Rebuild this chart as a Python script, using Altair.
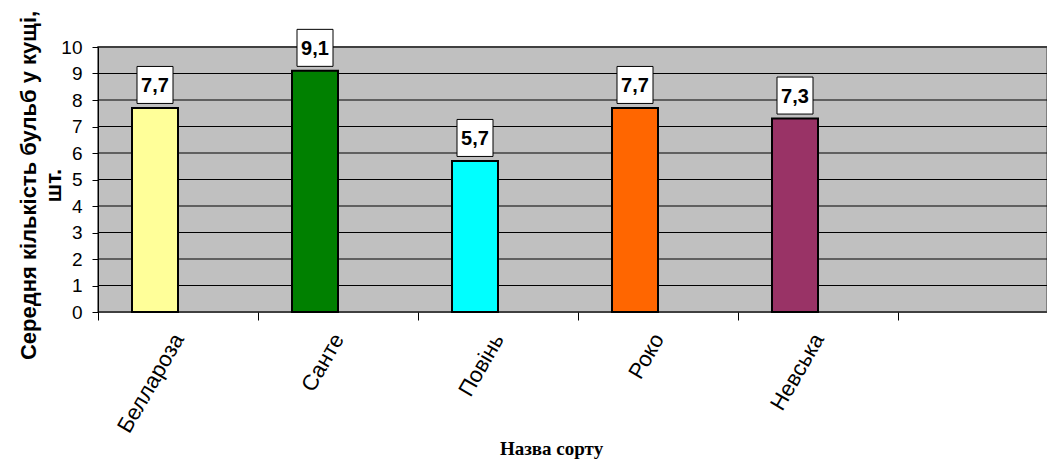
import altair as alt
import pandas as pd

varieties = ["Беллароза", "Санте", "Повінь", "Роко", "Невська"]
values = [7.7, 9.1, 5.7, 7.7, 7.3]
labels = ["7,7", "9,1", "5,7", "7,7", "7,3"]
colors = ["#FFFF99", "#008000", "#00FFFF", "#FF6600", "#993366"]
y_ticks = [0, 1, 2, 3, 4, 5, 6, 7, 8, 9, 10]

df = pd.DataFrame({"sort": varieties, "value": values, "label": labels})
grid_df = pd.DataFrame({"value": y_ticks})

x_scale = alt.Scale(domain=varieties, range=[0, 800], paddingInner=0, paddingOuter=0)
y_scale = alt.Scale(domain=[0, 10], nice=False)

x_axis = alt.Axis(
    title="Назва сорту",
    titleFont="Liberation Serif",
    titleFontSize=19,
    titleFontWeight="bold",
    titleColor="#000000",
    titleX=453,
    titleY=136,
    titleBaseline="middle",
    titleAlign="center",
    labelAngle=-60,
    labelAlign="right",
    labelBaseline="middle",
    labelFont="Arial",
    labelFontSize=22,
    labelColor="#000000",
    labelPadding=15,
    tickBand="extent",
    tickSize=8,
    tickColor="#000000",
    domain=False,
    grid=False,
)

y_axis = alt.Axis(
    title=["Середня кількість бульб у кущі,", "шт."],
    titleFont="Arial",
    titleFontSize=22,
    titleFontWeight="bold",
    titleColor="#000000",
    titleX=-70,
    titleY=138,
    titleAngle=270,
    titleBaseline="middle",
    titleAlign="center",
    titleLineHeight=25,
    values=y_ticks,
    labelOverlap=False,
    labelFont="Arial",
    labelFontSize=19,
    labelColor="#000000",
    labelPadding=10,
    tickSize=6,
    tickColor="#000000",
    domainColor="#000000",
    grid=False,
)

X = alt.X("sort:N", sort=varieties, scale=x_scale, axis=x_axis)
Y = alt.Y("value:Q", scale=y_scale, axis=y_axis)

gridlines = alt.Chart(grid_df).mark_rule(color="#000000", strokeWidth=1).encode(
    y=Y,
    x=alt.value(0),
    x2=alt.value(949),
)

bars = alt.Chart(df).mark_bar(
    width=46, xOffset=-23, stroke="#000000", strokeWidth=2
).encode(
    x=X,
    y=Y,
    color=alt.Color("sort:N", scale=alt.Scale(domain=varieties, range=colors), legend=None),
)

boxes = alt.Chart(df).mark_point(
    shape="M-0.973,-1H0.973V1H-0.973Z",
    size=1369,
    filled=True,
    fill="#FFFFFF",
    stroke="#000000",
    strokeWidth=1,
    opacity=1,
    xOffset=-23,
    yOffset=-23,
).encode(x=X, y=Y)

texts = alt.Chart(df).mark_text(
    font="Arial",
    fontSize=20,
    fontWeight="bold",
    color="#000000",
    baseline="middle",
    align="center",
    xOffset=-23,
    yOffset=-22,
).encode(x=X, y=Y, text="label:N")

chart = (
    alt.layer(gridlines, bars, boxes, texts)
    .properties(
        width=949,
        height=265,
        autosize=alt.AutoSizeParams(type="none"),
        padding={"left": 98, "top": 47, "right": 0, "bottom": 147},
        background="#FFFFFF",
    )
    .configure_view(fill="#C0C0C0", stroke="#808080", strokeWidth=2)
)

chart.save("out.html", embed_options={"renderer": "svg", "actions": False})
